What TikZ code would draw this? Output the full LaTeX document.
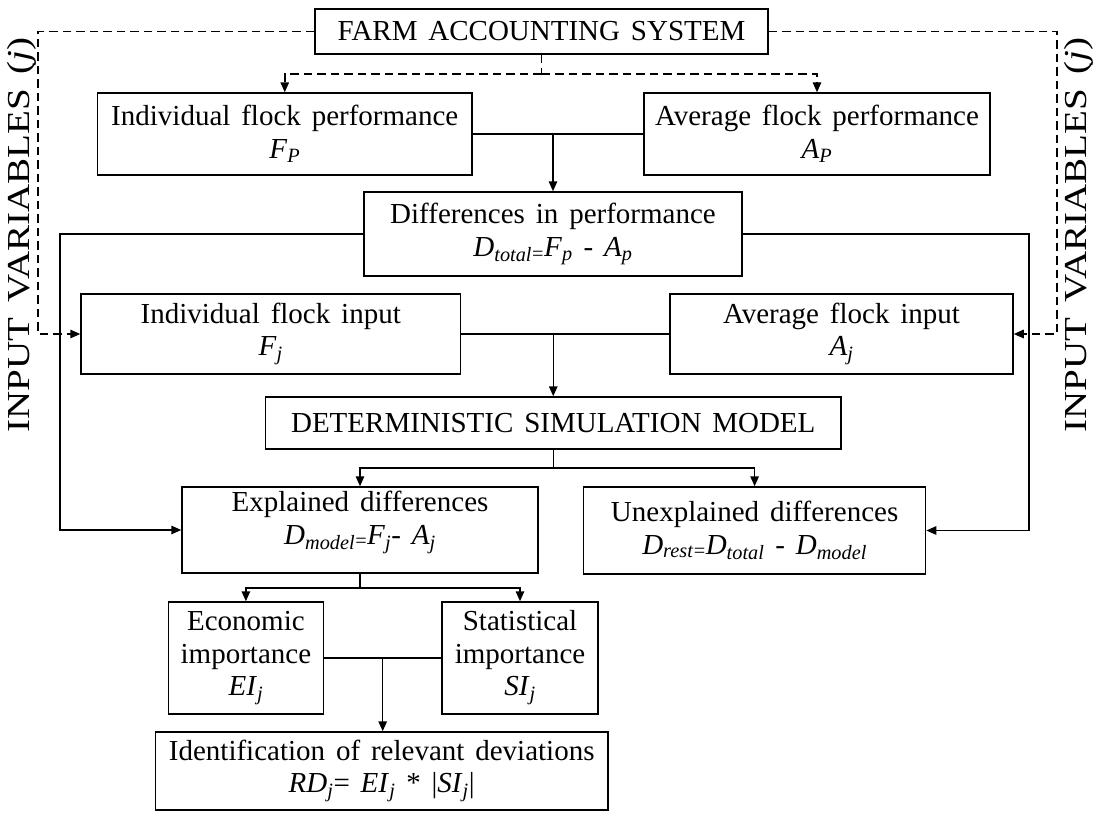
\documentclass[tikz,border=0pt]{standalone}
\usepackage{fontspec}
\setmainfont{Liberation Serif}[WordSpace=1.5]
\usetikzlibrary{arrows.meta,calc}
\newcommand{\iv}[1]{\textit{#1}}
\newcommand{\sbs}[1]{\textsubscript{\textit{#1}}}
\newcommand{\seq}{\textsubscript{=}}
\tikzset{
  box/.style={draw, line width=1.5pt, align=center, inner sep=2pt,
    font=\fontsize{29}{32.5}\selectfont},
  conn/.style={line width=1.5pt},
  arr/.style={conn, -{Triangle[length=10pt,width=8.5pt]}},
  dconn/.style={line width=1.5pt, dash pattern=on 8.5pt off 5pt},
  darr/.style={dconn, -{Triangle[length=10pt,width=8.5pt]}},
  side/.style={rotate=90, font=\fontsize{32}{36}\selectfont, inner sep=0pt}
}
\begin{document}
\begin{tikzpicture}[x=1pt, y=-1pt]
\useasboundingbox (0,0) rectangle (1095,812);

\node[box, minimum width=453pt, minimum height=45pt] (farm) at (541.5,31.5) {FARM ACCOUNTING SYSTEM};
\node[box, minimum width=374.5pt, minimum height=82pt] (ip) at (284.75,134) {Individual flock performance\\ \iv{F}\sbs{P}};
\node[box, minimum width=346pt, minimum height=82pt] (ap) at (817,134) {Average flock performance\\ \iv{A}\sbs{P}};
\node[box, minimum width=378pt, minimum height=84pt] (diff) at (553,234) {Differences in performance\\ \iv{D}\sbs{total}\seq\iv{F}\sbs{p} - \iv{A}\sbs{p}};
\node[box, minimum width=379.5pt, minimum height=80pt] (ii) at (270.75,334) {Individual flock input\\ \iv{F}\sbs{j}};
\node[box, minimum width=343pt, minimum height=80pt] (ai) at (841.5,334) {Average flock input\\ \iv{A}\sbs{j}};
\node[box, minimum width=575.5pt, minimum height=52pt] (dsm) at (553.25,423) {DETERMINISTIC SIMULATION MODEL};
\node[box, minimum width=356pt, minimum height=86pt] (ed) at (360,530) {Explained differences\\ \iv{D}\sbs{model}\seq\iv{F}\sbs{j}- \iv{A}\sbs{j}\\[-8pt]\mbox{}};
\node[box, minimum width=342pt, minimum height=87pt] (ud) at (754.6,530.5) {Unexplained differences\\ \iv{D}\sbs{rest}\seq\iv{D}\sbs{total} - \iv{D}\sbs{model}};
\node[box, minimum width=155pt, minimum height=112pt] (ei) at (245.9,658) {Economic\\ importance\\ \iv{EI}\sbs{j}};
\node[box, minimum width=156pt, minimum height=112pt] (si) at (520,658) {Statistical\\ importance\\ \iv{SI}\sbs{j}};
\node[box, minimum width=452.6pt, minimum height=78pt] (rd) at (381.7,771) {Identification of relevant deviations\\ \iv{RD}\sbs{j}= \iv{EI}\sbs{j} * |\iv{SI}\sbs{j}|};

\node[side] (lv) at (22,235) {\scalebox{1.22}[1]{INPUT VARIABLES (\iv{j})}};
\node[side] (rv) at (1079,235) {\scalebox{1.22}[1]{INPUT VARIABLES (\iv{j})}};

% dashed connectors
\coordinate (lc) at (38,31.5);
\coordinate (rc) at (1057,31.5);
\coordinate (ts) at (541.5,74);
\draw[darr] (farm.west) -- (lc) |- (ii.west);
\draw[darr] (farm.east) -- (rc) |- (ai.east);
\draw[dconn] (farm.south) -- (ts);
\draw[darr] (ts) -| (ip.north);
\draw[darr] (ts) -| (ap.north);

% solid connectors
\draw[conn] (ip.east) -- (ap.west);
\draw[arr] (diff.north |- ip.east) -- (diff.north);
\coordinate (lx) at (60,234);
\coordinate (rx) at (1029,234);
\draw[arr] (diff.west) -- (lx) |- (ed.west);
\draw[arr] (diff.east) -- (rx) |- (ud.east);
\draw[conn] (ii.east) -- (ai.west);
\draw[arr] (dsm.north |- ii.east) -- (dsm.north);
\coordinate (s1) at (553.25,468);
\draw[conn] (dsm.south) -- (s1);
\draw[arr] (s1) -| (ed.north);
\draw[arr] (s1) -| (ud.north);
\coordinate (s2) at (360,588);
\draw[conn] (ed.south) -- (s2);
\draw[arr] (s2) -| (ei.north);
\draw[arr] (s2) -| (si.north);
\draw[conn] (ei.east) -- (si.west);
\coordinate (m3) at ($(ei.east)!0.5!(si.west)$);
\draw[arr] (m3) -- (m3 |- rd.north);
\end{tikzpicture}
\end{document}
